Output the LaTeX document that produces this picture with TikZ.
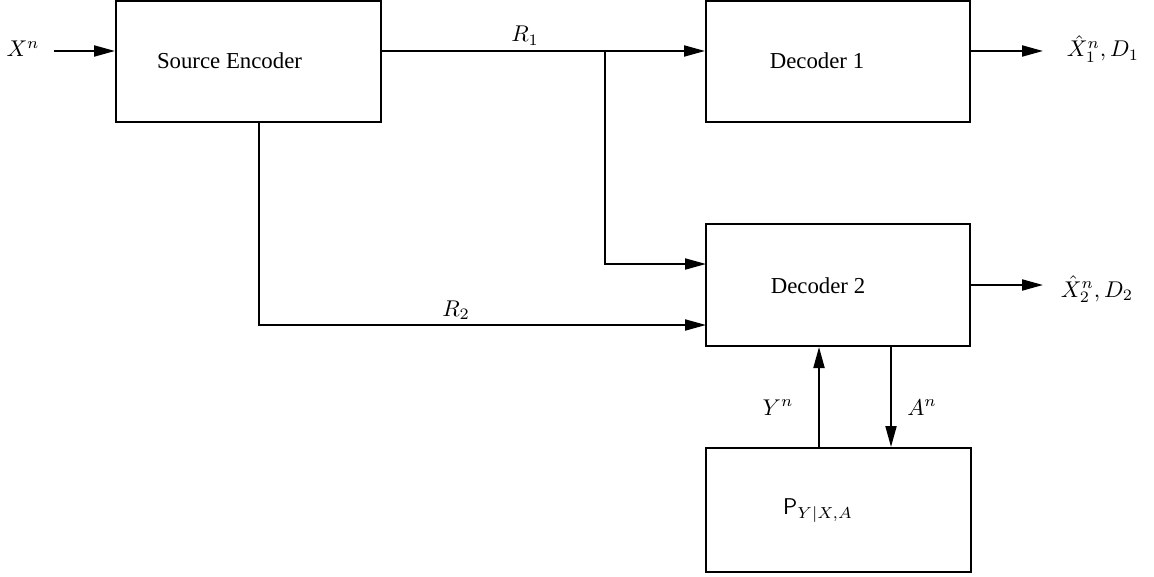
\RequirePackage{fix-cm}
\documentclass[tikz,border=0pt]{standalone}
\usepackage{fontspec}
\setmainfont{Liberation Serif}
\usetikzlibrary{arrows.meta,fit}
\begin{document}
\begin{tikzpicture}[x=0.5pt,y=-0.5pt,
  box/.style={draw,line width=1pt,rectangle,inner sep=0pt},
  arr/.style={line width=1pt,-{Triangle[length=10.5pt,width=5.5pt]}},
  ln/.style={line width=1pt},
  txt/.style={font=\fontsize{11.4}{13}\selectfont,anchor=base,inner sep=0pt}]
\useasboundingbox (0,0) rectangle (1154,577);
% boxes
\node[box,fit={(116,1) (381,122)}] (enc) {};
\node[box,fit={(706,1) (970,122)}] (dec1) {};
\node[box,fit={(706,224) (970,346)}] (dec2) {};
\node[box,fit={(706,448) (971,572)}] (chan) {};
% box texts
\node[txt] (tenc) at (229.5,69) {Source Encoder};
\node[txt] (tdec1) at (817,69) {Decoder 1};
\node[txt] (tdec2) at (818,293) {Decoder 2};
\node[txt] (tchan) at (818,514) {$\mathsf{P}_{Y|X,A}$};
% helper coordinates
\coordinate (xin) at (54,51);
\coordinate (br) at (605,51);
\coordinate (in2a) at (706,264);
\coordinate (in2b) at (706,325);
\coordinate (encd) at (259,122);
\coordinate (o1) at (1043,51);
\coordinate (o2) at (1043,285);
\coordinate (yup) at (819,448);
\coordinate (adn) at (891,346);
% connectors
\draw[arr] (xin) -- (xin -| enc.west);
\draw[arr] (enc.east |- xin) -- (xin -| dec1.west);
\draw[arr] (br) |- (in2a);
\draw[arr] (encd) |- (in2b);
\draw[arr] (dec1.east |- o1) -- (o1);
\draw[arr] (dec2.east |- o2) -- (o2);
\draw[arr] (yup) -- (yup |- dec2.south);
\draw[arr] (adn) -- (adn |- chan.north);
% labels
\node[txt] (lx) at (23,57) {$X^n$};
\node[txt] (lr1) at (525,42) {$R_1$};
\node[txt] (lr2) at (456,316) {$R_2$};
\node[txt] (lo1) at (1103,57) {$\hat{X}_1^n, D_1$};
\node[txt] (lo2) at (1097,297) {$\hat{X}_2^n, D_2$};
\node[txt] (ly) at (778,415) {$Y^n$};
\node[txt] (la) at (922,415) {$A^n$};
\end{tikzpicture}
\end{document}
